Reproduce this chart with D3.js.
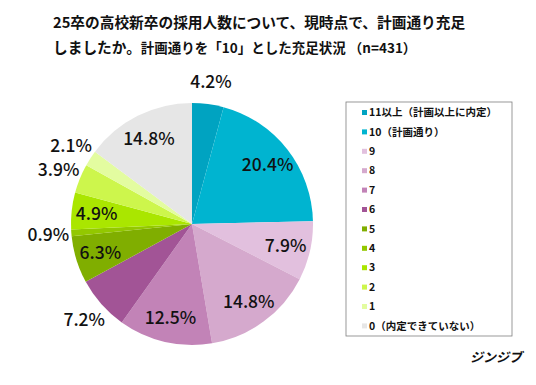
<!DOCTYPE html>
<html>
<head>
<meta charset="utf-8">
<script src="https://cdn.jsdelivr.net/npm/d3@7"></script>
<style>
  body { margin: 0; background: #fff; }
  text { font-family: "Noto Sans CJK JP", "Noto Sans", sans-serif; }
</style>
</head>
<body>
<svg id="chart" width="536" height="385"></svg>
<script>
// Categories in clockwise order from 12 o'clock
const categories = ["11以上（計画以上に内定）", "10（計画通り）", "9", "8", "7", "6", "5", "4", "3", "2", "1", "0（内定できていない）"];
const shares = [4.2, 20.4, 7.9, 14.8, 12.5, 7.2, 6.3, 0.9, 4.9, 3.9, 2.1, 14.8];
const colors = ["#00a3c1", "#00b4d0", "#e2c0de", "#d5a9cd", "#c283b7", "#a25496", "#80ae00", "#93c800", "#aae600", "#cdf64c", "#e3fca0", "#e6e6e6"];
// labels drawn outside the pie
const outsideLabels = ["11以上（計画以上に内定）", "6", "4", "2", "1"];

const svg = d3.select("#chart");

// Title
const title = svg.append("text").attr("x", 53).attr("y", 28)
  .attr("font-weight", "bold").attr("font-size", 14.7).attr("fill", "#111");
title.text("25卒の高校新卒の採用人数について、現時点で、計画通り充足");
const t2 = svg.append("text").attr("x", 53).attr("y", 53)
  .attr("font-weight", "bold").attr("fill", "#111");
t2.append("tspan").attr("font-size", 14.7).text("しましたか。");
t2.append("tspan").attr("font-size", 13.5).text("計画通りを「10」とした充足状況 （n=431）");

// Pie
const cx = 192, cy = 224, R = 121;
const data = categories.map((c, i) => ({ cat: c, value: shares[i], color: colors[i] }));
const pie = d3.pie().value(d => d.value).sort(null);
const arcs = pie(data);
const arc = d3.arc().innerRadius(0).outerRadius(R);
const inArc = d3.arc().innerRadius(96).outerRadius(96);
const outArc = d3.arc().innerRadius(144).outerRadius(144);

const g = svg.append("g").attr("transform", `translate(${cx},${cy})`);
g.selectAll("path").data(arcs).join("path")
  .attr("d", arc)
  .attr("fill", d => d.data.color);

g.selectAll("text.lbl").data(arcs).join("text")
  .attr("class", "lbl")
  .attr("transform", d => {
    const a = outsideLabels.includes(d.data.cat) ? outArc : inArc;
    const [x, y] = a.centroid(d);
    return `translate(${x},${y})`;
  })
  .attr("text-anchor", "middle")
  .attr("dy", "0.36em")
  .attr("font-size", 17.5)
  .attr("font-weight", 500)
  .attr("fill", "#111")
  .text(d => d.data.value.toFixed(1) + "%");

// Legend
const lg = svg.append("g").attr("transform", "translate(346,102)");
lg.append("rect").attr("x", 0).attr("y", 0).attr("width", 166).attr("height", 234)
  .attr("fill", "#fff").attr("stroke", "#7f7f7f").attr("stroke-width", 0.8);
const item = lg.selectAll("g.item").data(data).join("g")
  .attr("class", "item")
  .attr("transform", (d, i) => `translate(16,${10.5 + i * 19.4})`);
item.append("rect").attr("x", 0).attr("y", -2.5).attr("width", 5).attr("height", 5)
  .attr("fill", d => d.color);
item.append("text").attr("x", 7).attr("dy", "0.36em")
  .attr("font-size", 10.5).attr("font-weight", "bold").attr("fill", "#111")
  .text(d => d.cat);

// Brand
svg.append("text").attr("x", 522).attr("y", 362).attr("text-anchor", "end")
  .attr("font-size", 13).attr("font-weight", "bold").attr("font-style", "italic")
  .attr("fill", "#111").text("ジンジブ");
</script>
</body>
</html>
